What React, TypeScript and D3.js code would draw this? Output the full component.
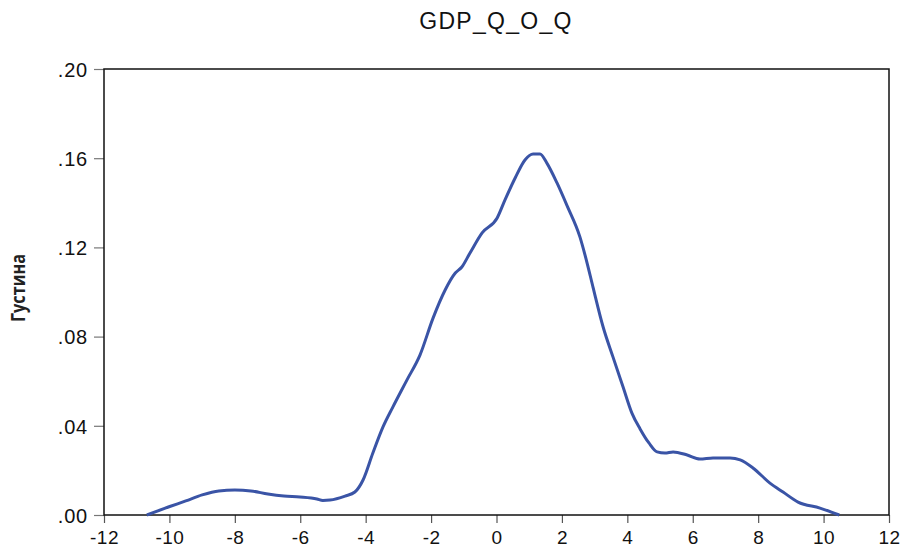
import React, { useEffect, useRef } from "react"
import * as d3 from "d3"

// kernel density of GDP_Q_O_Q
const xValues = [
	-10.69, -9.99, -9.5, -9.0, -8.49, -8.0, -7.51, -6.99, -6.5, -6.01, -5.49,
	-5.31, -5.09, -4.63, -4.33, -4.08, -3.78, -3.47, -3.17, -2.74, -2.34, -1.94,
	-1.57, -1.26, -1.06, -0.81, -0.44, 0.02, 0.26, 0.57, 0.87, 1.12, 1.33, 1.54,
	1.85, 2.16, 2.55, 2.77, 2.95, 3.26, 3.56, 3.87, 4.14, 4.39, 4.66, 4.91, 5.15,
	5.4, 5.83, 6.22, 6.62, 7.14, 7.45, 7.84, 8.36, 8.76, 9.22, 9.89, 10.48,
]
const densityValues = [
	0.0, 0.0038, 0.0063, 0.009, 0.0108, 0.0112, 0.0108, 0.0094, 0.0085, 0.0081,
	0.0072, 0.0065, 0.0067, 0.0085, 0.0103, 0.0157, 0.0278, 0.0395, 0.0484,
	0.0605, 0.0717, 0.0883, 0.1009, 0.1085, 0.1112, 0.1175, 0.1265, 0.1332,
	0.1413, 0.1511, 0.1592, 0.1619, 0.1619, 0.1578, 0.1489, 0.1386, 0.1247,
	0.113, 0.1022, 0.0843, 0.0709, 0.0574, 0.0457, 0.0386, 0.0323, 0.0283,
	0.0278, 0.0283, 0.0269, 0.0251, 0.0256, 0.0256, 0.0247, 0.0211, 0.0143,
	0.0103, 0.0058, 0.0031, 0.0,
]
const xTicks = [-12, -10, -8, -6, -4, -2, 0, 2, 4, 6, 8, 10, 12]
const yTicks = [0, 0.04, 0.08, 0.12, 0.16, 0.2]
const yTickLabels = [".00", ".04", ".08", ".12", ".16", ".20"]

const font = "'Liberation Sans', Arial, sans-serif"

const App = () => {
	const ref = useRef<SVGSVGElement>(null)

	useEffect(() => {
		const width = 902
		const height = 548
		const marginLeft = 104
		const marginRight = 13
		const marginTop = 69
		const marginBottom = 33

		const svg = d3.select(ref.current)
		svg.selectAll("*").remove()

		const x = d3
			.scaleLinear()
			.domain([-12, 12])
			.range([marginLeft, width - marginRight])
		const y = d3
			.scaleLinear()
			.domain([0, 0.2])
			.range([height - marginBottom, marginTop])

		// x axis
		const xAxis = d3
			.axisBottom(x)
			.tickValues(xTicks)
			.tickSize(8)
			.tickPadding(8)
			.tickFormat(d => String(d))

		svg
			.append("g")
			.attr("transform", `translate(0, ${height - marginBottom})`)
			.call(xAxis)
			.call(g => g.select(".domain").remove())
			.call(g => g.selectAll("line").attr("stroke", "#555").attr("stroke-width", 1.2))
			.call(g =>
				g
					.selectAll("text")
					.attr("fill", "#111")
					.attr("dy", "0.66em")
					.style("font-family", font)
					.style("font-size", "19px")
					.style("letter-spacing", "0.5px"),
			)

		// y axis
		const yAxis = d3
			.axisLeft(y)
			.tickValues(yTicks)
			.tickSize(10)
			.tickPadding(6)
			.tickFormat((d, i) => yTickLabels[i])

		svg
			.append("g")
			.attr("transform", `translate(${marginLeft}, 0)`)
			.call(yAxis)
			.call(g => g.select(".domain").remove())
			.call(g => g.selectAll("line").attr("stroke", "#777").attr("stroke-width", 1.2))
			.call(g =>
				g
					.selectAll("text")
					.attr("fill", "#111")
					.attr("dy", "0.36em")
					.style("font-family", font)
					.style("font-size", "20px")
					.style("letter-spacing", "0.8px"),
			)

		// frame
		svg
			.append("rect")
			.attr("x", marginLeft)
			.attr("y", marginTop)
			.attr("width", width - marginLeft - marginRight)
			.attr("height", height - marginTop - marginBottom)
			.attr("fill", "none")
			.attr("stroke", "#111")
			.attr("stroke-width", 1.5)

		// density curve
		const points = xValues.map((v, i) => [v, densityValues[i]] as [number, number])
		const line = d3
			.line<[number, number]>()
			.x(d => x(d[0]))
			.y(d => y(d[1]))
			.curve(d3.curveMonotoneX)

		svg
			.append("path")
			.datum(points)
			.attr("d", line)
			.attr("fill", "none")
			.attr("stroke", "#3a54a6")
			.attr("stroke-width", 3)
			.attr("stroke-linejoin", "round")

		// title
		svg
			.append("text")
			.attr("x", 496)
			.attr("y", 29)
			.attr("text-anchor", "middle")
			.attr("fill", "#111")
			.style("font-family", font)
			.style("font-size", "23px")
			.style("letter-spacing", "1.3px")
			.text("GDP_Q_O_Q")

		// y label
		svg
			.append("text")
			.attr("transform", "translate(25, 288) rotate(-90)")
			.attr("text-anchor", "middle")
			.attr("fill", "#222")
			.attr("textLength", 68)
			.attr("lengthAdjust", "spacingAndGlyphs")
			.style("font-family", "'Open Sans', sans-serif")
			.style("font-weight", "bold")
			.style("font-size", "19px")
			.text("Густина")
	}, [])

	return (
		<svg
			ref={ref}
			width={902}
			height={548}
			style={{ position: "absolute", left: 0, top: 0, background: "#fff" }}
		></svg>
	)
}

export default App
